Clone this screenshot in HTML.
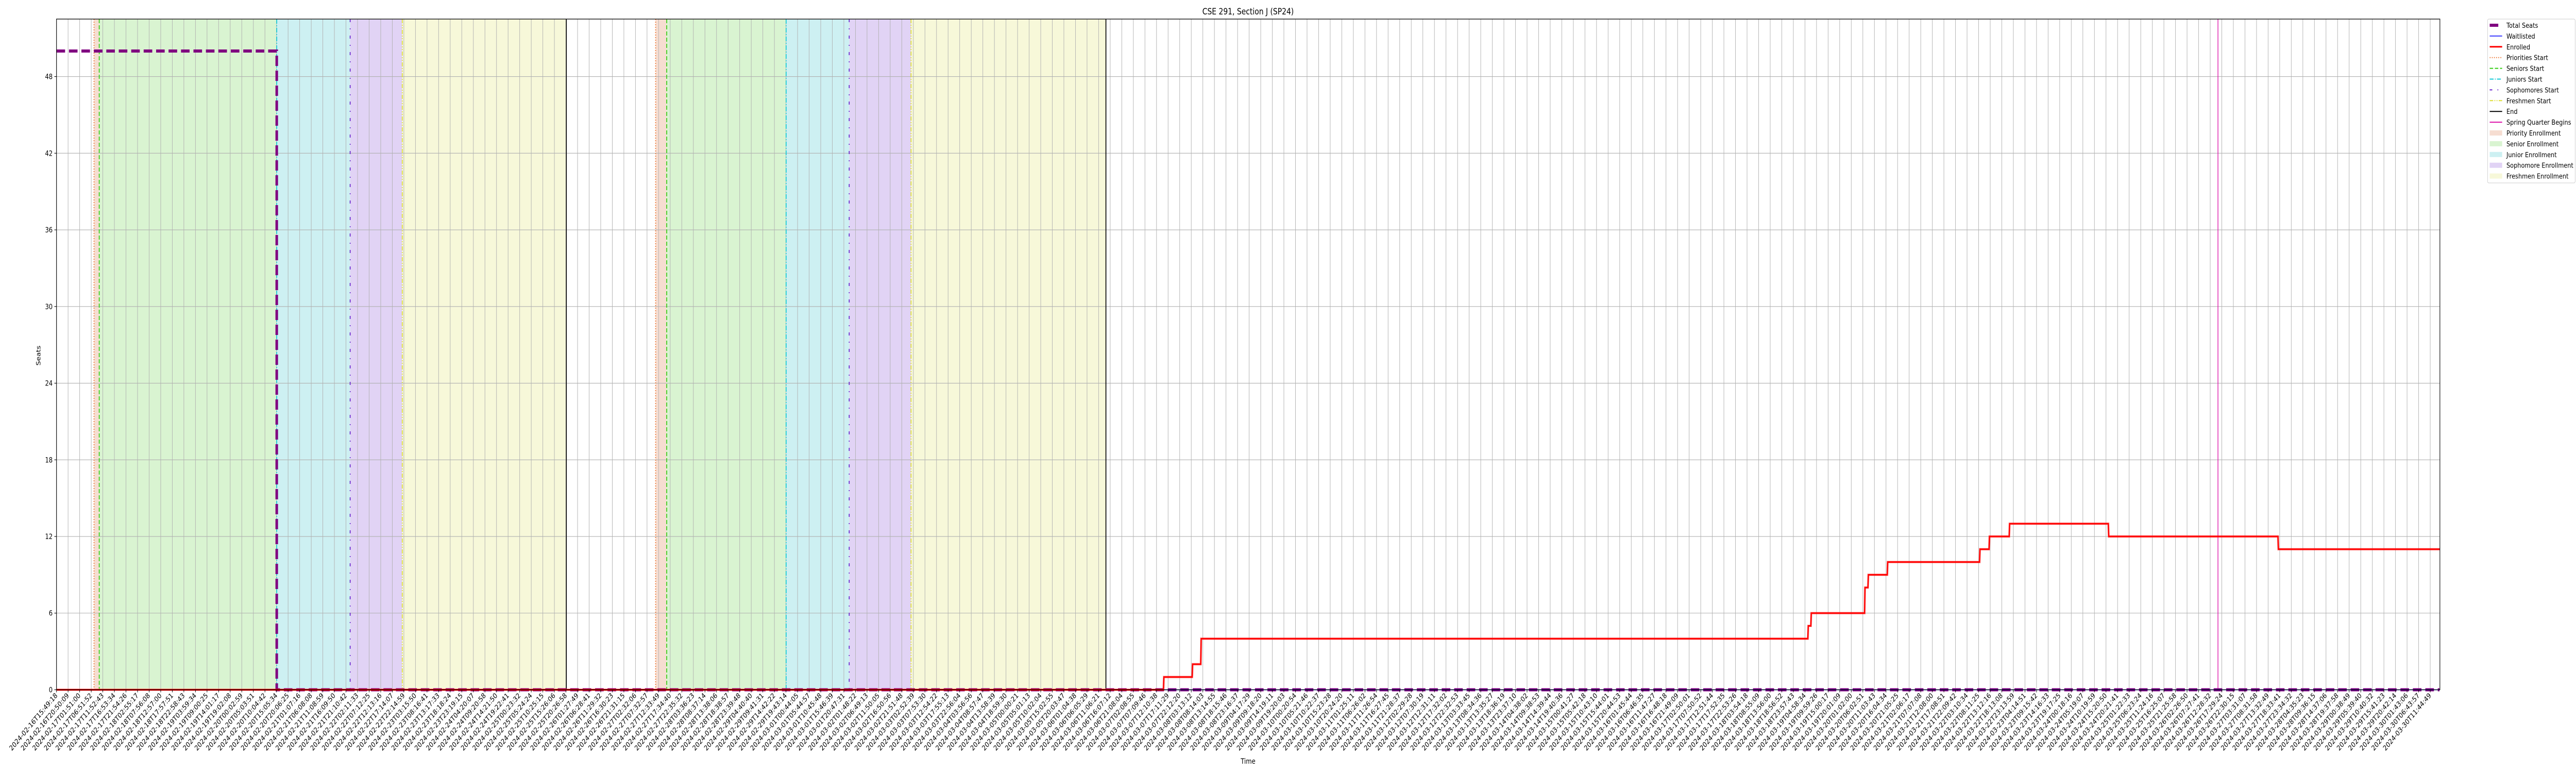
<!DOCTYPE html>
<html><head><meta charset="utf-8"><title>CSE 291, Section J (SP24)</title>
<style>
html,body{margin:0;padding:0;background:#fff;width:100%;height:100%;overflow:hidden;}
svg{display:block;width:100vw;height:100vh;font-family:"DejaVu Sans","Liberation Sans",sans-serif;}
</style></head>
<body>
<svg id="chart" viewBox="0 0 6000 1500" preserveAspectRatio="none" xmlns="http://www.w3.org/2000/svg">
<g id="shading"></g>
<g id="grid"></g>
<g id="events"></g>
<g id="series"></g>
<g id="axes"></g>
<text x="2907" y="28" text-anchor="middle" font-size="16.7">CSE 291, Section J (SP24)</text>
<text x="2907" y="1482" text-anchor="middle" font-size="14">Time</text>
<text transform="translate(94,690) rotate(-90)" text-anchor="middle" font-size="14">Seats</text>
<g id="legend"></g>
</svg>
<script>
// ---- data ----
const tickStart = "2024-02-16T15:49:18";
const tickEnd = "2024-03-30T11:44:49";
const tickCount = 206;
const yTicks = [0, 6, 12, 18, 24, 30, 36, 42, 48];
// event times in tick-index units
const periodNames = ["priority", "senior", "junior", "sophomore", "freshman"];
const round1Starts = [3.24, 3.69, 19.02, 25.36, 29.86];
const round1End = 44.03;
const round2Starts = [51.74, 52.70, 63.01, 68.46, 73.80];
const round2End = 90.63;
const springBegins = 186.67;
// series
const enrolledTimes = [0, 95.6, 98.08, 98.82, 151.25, 151.51, 156.15, 156.44, 158.11, 166.08, 166.9, 168.64, 177.2, 191.85, 205.8];
const enrolledValues = [0, 1, 2, 4, 5, 6, 8, 9, 10, 11, 12, 13, 12, 11, 11];
const totalTimes = [0, 19.02, 19.02, 205.8];
const totalValues = [50, 50, 0, 0];
const waitTimes = [0, 205.8];
const waitValues = [0, 0];

// ---- scales ----
const X0 = 131.6, XR = 5683, DX = 26.97;
const Y0 = 1338.5, YT = 37, YMAX = 52.5;
const xs = t => X0 + t * DX;
const ys = v => Y0 - v * (Y0 - YT) / YMAX;
const NS = "http://www.w3.org/2000/svg";
function mk(tag, attrs, parent) {
  const e = document.createElementNS(NS, tag);
  for (const k in attrs) e.setAttribute(k, attrs[k]);
  parent.appendChild(e);
  return e;
}
const gShade = document.getElementById('shading');
const gGrid = document.getElementById('grid');
const gEv = document.getElementById('events');
const gSer = document.getElementById('series');
const gAx = document.getElementById('axes');
const gLeg = document.getElementById('legend');

const fills = {priority:"#f6ddd1", senior:"#d9f4d1", junior:"#cdf0f2", sophomore:"#e1d3f5", freshman:"#f7f8d9"};
const evStyle = [
  {c:"#ee7733", w:2, d:"2,3"},
  {c:"#33cc11", w:2, d:"8,4"},
  {c:"#11c8d6", w:2, d:"9,3,2,3"},
  {c:"#6622cc", w:2, d:"6,12,2,12"},
  {c:"#dddd33", w:2, d:"8,3,2,3,2,3"}
];
function drawRound(starts, end) {
  for (let i = 0; i < starts.length; i++) {
    const a = starts[i], b = i + 1 < starts.length ? starts[i+1] : end;
    const r = mk('rect', {x: xs(a), y: YT, width: xs(b) - xs(a), height: Y0 - YT, fill: fills[periodNames[i]]}, gShade);
    
    
  }
  for (let i = 0; i < starts.length; i++) {
    const s = evStyle[i];
    const l = mk('line', {x1: xs(starts[i]), x2: xs(starts[i]), y1: YT, y2: Y0, stroke: s.c, 'stroke-width': s.w, 'stroke-dasharray': s.d}, gEv);
    
    
  }
  const e = mk('line', {x1: xs(end), x2: xs(end), y1: YT, y2: Y0, stroke: "#000", 'stroke-width': 2}, gEv);
  
  
}
drawRound(round1Starts, round1End);
drawRound(round2Starts, round2End);
const sp = mk('line', {x1: xs(springBegins), x2: xs(springBegins), y1: YT, y2: Y0, stroke: "#dd11aa", 'stroke-width': 1.6}, gEv);



// grid + ticks
const startMs = Date.parse(tickStart + "Z"), endMs = Date.parse(tickEnd + "Z");
const tickLabels = [];
for (let i = 0; i < tickCount; i++) {
  const d = new Date(startMs + (endMs - startMs) * i / (tickCount - 1));
  tickLabels.push(d.toISOString().slice(0, 19));
}
tickLabels.forEach((lab, i) => {
  const x = xs(i);
  const gl = mk('line', {x1: x, x2: x, y1: YT, y2: Y0, stroke: "#b0b0b0", 'stroke-width': 1.1}, gGrid);
  
  
  const tk = mk('line', {x1: x, x2: x, y1: Y0, y2: Y0 + 5, stroke: "#000", 'stroke-width': 1.1}, gAx);
  
  
  const t = mk('text', {transform: `translate(${x + 3},${Y0 + 12}) rotate(-45)`, 'text-anchor': 'end', 'font-size': 13.9}, gAx);
  
  
  t.textContent = lab;
});
yTicks.forEach(v => {
  const y = ys(v);
  const gl = mk('line', {x1: X0, x2: XR, y1: y, y2: y, stroke: "#b0b0b0", 'stroke-width': 1.1}, gGrid);
  
  
  const tk = mk('line', {x1: X0 - 5, x2: X0, y1: y, y2: y, stroke: "#000", 'stroke-width': 1.1}, gAx);
  
  
  const t = mk('text', {x: X0 - 9, y: y + 5, 'text-anchor': 'end', 'font-size': 13.9}, gAx);
  
  
  t.textContent = v;
});
const frame = mk('rect', {x: X0, y: YT, width: XR - X0, height: Y0 - YT, fill: "none", stroke: "#000", 'stroke-width': 1.3}, gAx);



// series
function stepPath(ts, vs) {
  let d = `M${xs(ts[0])},${ys(vs[0])}`;
  for (let i = 1; i < ts.length; i++) {
    d += ` L${xs(ts[i])},${ys(vs[i-1])} L${xs(ts[i]) + 1},${ys(vs[i])}`;
  }
  return d;
}
function linePath(ts, vs) {
  return ts.map((t, i) => (i ? 'L' : 'M') + xs(t) + ',' + ys(vs[i])).join(' ');
}
const tot = mk('path', {d: linePath(totalTimes, totalValues), fill: "none", stroke: "#800080", 'stroke-width': 6, 'stroke-dasharray': "20,9"}, gSer);


const wl = mk('path', {d: linePath(waitTimes, waitValues), fill: "none", stroke: "#0000ff", 'stroke-width': 1.5}, gSer);


const enH = mk('path', {d: stepPath(enrolledTimes, enrolledValues), fill: "none", stroke: "#ff0000", 'stroke-opacity': 0.3, 'stroke-width': 5}, gSer);


const en = mk('path', {d: stepPath(enrolledTimes, enrolledValues), fill: "none", stroke: "#ff0000", 'stroke-width': 3}, gSer);



// legend
const lb = mk('rect', {x: 5794, y: 37, width: 204, height: 318, rx: 3, fill: "#fff", 'fill-opacity': 0.85, stroke: "#cccccc", 'stroke-width': 1}, gLeg);


const legendItems = [
  ["Total Seats", "line", "#800080", 6, ""],
  ["Waitlisted", "line", "#0000ff", 1.5, ""],
  ["Enrolled", "line", "#ff0000", 3, ""],
  ["Priorities Start", "line", "#ee7733", 2, "2,3"],
  ["Seniors Start", "line", "#33cc11", 2, "8,4"],
  ["Juniors Start", "line", "#11c8d6", 2, "9,3,2,3"],
  ["Sophomores Start", "line", "#6622cc", 2, "6,12,2,12"],
  ["Freshmen Start", "line", "#dddd33", 2, "8,3,2,3,2,3"],
  ["End", "line", "#000000", 2, ""],
  ["Spring Quarter Begins", "line", "#dd11aa", 2, ""],
  ["Priority Enrollment", "patch", "#f6ddd1"],
  ["Senior Enrollment", "patch", "#d9f4d1"],
  ["Junior Enrollment", "patch", "#cdf0f2"],
  ["Sophomore Enrollment", "patch", "#e1d3f5"],
  ["Freshmen Enrollment", "patch", "#f7f8d9"]
];
legendItems.forEach((it, i) => {
  const cy = 49 + i * 20.9;
  const g = mk('g', {}, gLeg);
  
  
  if (it[1] === "line") {
    const a = {x1: 5799, x2: 5828, y1: cy, y2: cy, stroke: it[2], 'stroke-width': it[3]};
    if (it[4]) a['stroke-dasharray'] = it[4];
    if (i === 0) a.x2 = 5819;
    mk('line', a, g);
  } else {
    mk('rect', {x: 5799, y: cy - 5, width: 29, height: 10, fill: it[2]}, g);
  }
  const t = mk('text', {x: 5838, y: cy + 5, 'font-size': 13.6}, g);
  t.textContent = it[0];
});
</script>
</body></html>
